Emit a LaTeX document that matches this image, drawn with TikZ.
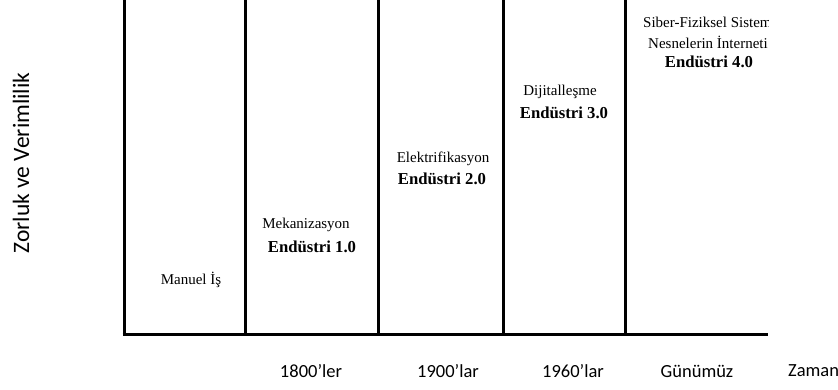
\documentclass[tikz,border=0pt]{standalone}
\usepackage{fontspec}
\setmainfont{Liberation Serif}
\newfontfamily\calib{Carlito}
\begin{document}
\begin{tikzpicture}[x=1pt,y=-1pt,
  axisline/.style={line width=3pt},
  era/.style={inner sep=0pt,font=\fontsize{15}{18}\selectfont},
  ind/.style={inner sep=0pt,font=\fontsize{16.7}{20}\selectfont\bfseries},
  axlab/.style={inner sep=0pt,font=\calib\fontsize{18.5}{22}\selectfont}]
\useasboundingbox (0,0) rectangle (838,390);
\clip (0,0) rectangle (838,390);
% axes and columns
\coordinate (o) at (122.5,334);
\coordinate (e) at (768,334);
\coordinate (t0) at (124,0);
\coordinate (t1) at (245,0);
\coordinate (b1) at (245,334);
\coordinate (t2) at (378,0);
\coordinate (b2) at (378,334);
\coordinate (t3) at (503,0);
\coordinate (b3) at (503,334);
\coordinate (t4) at (625,0);
\coordinate (b4) at (625,334);
\draw[axisline] (t0) -- (124,334);
\draw[axisline] (o) -- (e);
\draw[axisline] (t1) -- (b1);
\draw[axisline] (t2) -- (b2);
\draw[axisline] (t3) -- (b3);
\draw[axisline] (t4) -- (b4);
% texts
\node[era] (m0) at (191,280) {Manuel İş};
\node[era] (m1) at (306,225) {Mekanizasyon};
\node[ind] (i1) at (312,247) {Endüstri 1.0};
\node[era] (m2) at (443,159) {Elektrifikasyon};
\node[ind] (i2) at (442,179) {Endüstri 2.0};
\node[era] (m3) at (560,92) {Dijitalleşme};
\node[ind] (i3) at (564,113) {Endüstri 3.0};
\begin{scope}
\clip (627,0) rectangle (768,330);
\node[era,anchor=west] (m4a) at (643,22) {Siber-Fiziksel Sistemler};
\node[era,anchor=west] (m4b) at (648,42) {Nesnelerin İnterneti};
\end{scope}
\node[ind] (i4) at (709,62) {Endüstri 4.0};
% axis labels
\node[axlab,rotate=90,font=\calib\fontsize{23.5}{26}\selectfont] (yl) at (21,163) {Zorluk ve Verimlilik};
\node[axlab] (x1) at (311,371) {1800’ler};
\node[axlab] (x2) at (448,371) {1900’lar};
\node[axlab] (x3) at (573,371) {1960’lar};
\node[axlab] (x4) at (697,371) {Günümüz};
\node[axlab,anchor=west] (x5) at (788,371) {Zaman};
\end{tikzpicture}
\end{document}
